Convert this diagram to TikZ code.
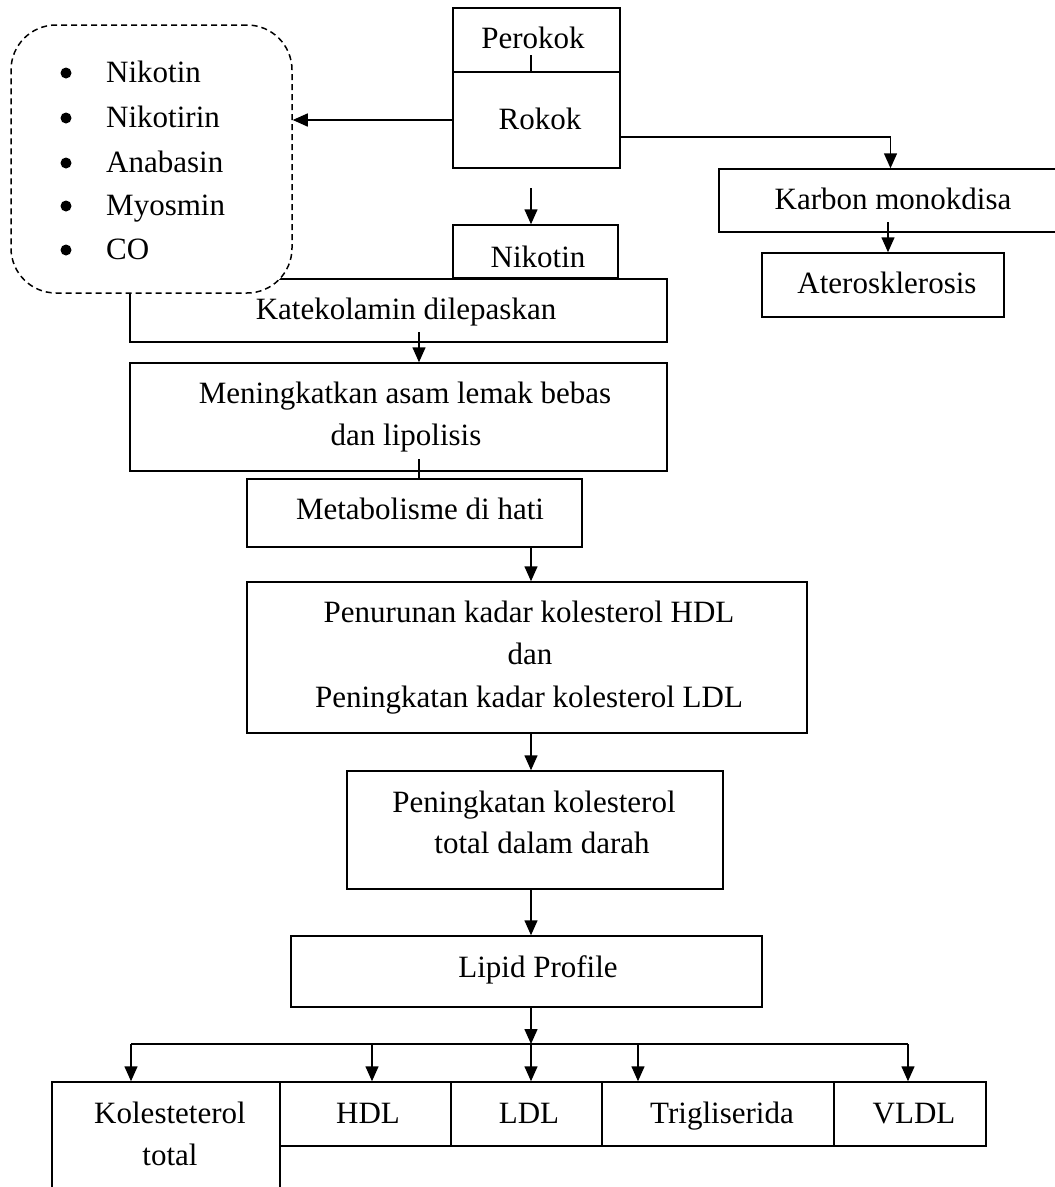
\documentclass[tikz,border=0pt]{standalone}
\usepackage{fontspec}
\setmainfont{Liberation Serif}
\usetikzlibrary{arrows.meta}
\tikzset{
  box/.style={draw, line width=1.5pt, fill=white, inner sep=0pt},
  lbl/.style={anchor=base, inner sep=0pt, font=\fontsize{31}{38}\selectfont},
  lbll/.style={anchor=base west, inner sep=0pt, font=\fontsize{31}{38}\selectfont},
  conn/.style={line width=1.5pt},
  arr/.style={line width=1.5pt, -{Triangle[length=15pt,width=13pt]}},
}
\begin{document}
\begin{tikzpicture}[x=1pt,y=-1pt]
\clip (0,0) rectangle (1055,1187);
\fill[white] (0,0) rectangle (1055,1187);
% boxes
\node[box, minimum width=167pt, minimum height=64pt] (perokok) at (536.5,40) {};
\node[box, minimum width=167pt, minimum height=96pt] (rokok) at (536.5,120) {};
\node[box, minimum width=343pt, minimum height=63pt] (karbon) at (890.5,200.5) {};
\node[box, minimum width=242pt, minimum height=64pt] (ater) at (883,285) {};
\node[box, minimum width=537pt, minimum height=63pt] (kat) at (398.5,310.5) {};
\node[box, minimum width=165pt, minimum height=53pt] (nik) at (535.5,251.5) {};
\node[box, minimum width=537pt, minimum height=108pt] (men) at (398.5,417) {};
\node[box, minimum width=335pt, minimum height=68pt] (met) at (414.5,513) {};
\node[box, minimum width=560pt, minimum height=151pt] (pen) at (527,657.5) {};
\node[box, minimum width=376pt, minimum height=118pt] (pkt) at (535,830) {};
\node[box, minimum width=471pt, minimum height=71pt] (lip) at (526.5,971.5) {};
\node[box, minimum width=228pt, minimum height=130pt] (kol) at (166,1147) {};
\node[box, minimum width=171pt, minimum height=64pt] (hdl) at (365.5,1114) {};
\node[box, minimum width=151pt, minimum height=64pt] (ldl) at (526.5,1114) {};
\node[box, minimum width=232pt, minimum height=64pt] (tri) at (718,1114) {};
\node[box, minimum width=152pt, minimum height=64pt] (vldl) at (910,1114) {};
% dashed list box (drawn over Katekolamin box)
\node[box, dash pattern=on 6pt off 4pt, rounded corners=45pt, minimum width=281pt, minimum height=268pt] (list) at (151.5,159) {};
% labels
\node[lbl] (tperokok) at (533,48) {Perokok};
\node[lbl] (trokok) at (540,129) {Rokok};
\node[lbl] (tkarbon) at (893,209) {Karbon monokdisa};
\node[lbl] (tater) at (887,293) {Aterosklerosis};
\node[lbl] (tnik) at (538,267) {Nikotin};
\node[lbl] (tkat) at (406,319) {Katekolamin dilepaskan};
\node[lbl] (tmen1) at (405,403) {Meningkatkan asam lemak bebas};
\node[lbl] (tmen2) at (406,445) {dan lipolisis};
\node[lbl] (tmet) at (420,519) {Metabolisme di hati};
\node[lbl] (tpen1) at (529,622) {Penurunan kadar kolesterol HDL};
\node[lbl] (tpen2) at (530,664) {dan};
\node[lbl] (tpen3) at (529,707) {Peningkatan kadar kolesterol LDL};
\node[lbl] (tpkt1) at (534,812) {Peningkatan kolesterol};
\node[lbl] (tpkt2) at (542,853) {total dalam darah};
\node[lbl] (tlip) at (538,977) {Lipid Profile};
\node[lbl] (tkol1) at (170,1123) {Kolesteterol};
\node[lbl] (tkol2) at (170,1165) {total};
\node[lbl] (thdl) at (368,1123) {HDL};
\node[lbl] (tldl) at (529,1123) {LDL};
\node[lbl] (ttri) at (722,1123) {Trigliserida};
\node[lbl] (tvldl) at (914,1123) {VLDL};
% list items
\foreach \yy/\tt [count=\i] in {82/Nikotin,127/Nikotirin,172/Anabasin,215/Myosmin,259/CO}{
  \fill (66,\yy-9) circle (5.5pt);
  \node[lbll] (li\i) at (106,\yy) {\tt};
}
% connectors
\coordinate (t1) at (531,55);
\draw[conn] (t1) -- (perokok.south -| t1);
\draw[arr] (rokok.west) -- (list.east |- rokok.west);
\draw[arr] ([yshift=-17pt]rokok.east) -| (karbon.north);
\coordinate (k1) at (888,222);
\draw[arr] (k1) -- (ater.north -| k1);
\coordinate (r3) at (531,188);
\draw[arr] (r3) -- (nik.north -| r3);
\coordinate (k2) at (419,332);
\draw[arr] (k2) -- (men.north -| k2);
\coordinate (m1) at (419,459);
\draw[conn] (m1) -- (met.north -| m1);
\coordinate (ax) at (531,0);
\draw[arr] (met.south -| ax) -- (pen.north -| ax);
\draw[arr] (pen.south -| ax) -- (pkt.north -| ax);
\draw[arr] (pkt.south -| ax) -- (lip.north -| ax);
\coordinate (b1) at (131,1044);
\coordinate (b2) at (372,1044);
\coordinate (b3) at (531,1044);
\coordinate (b4) at (638,1044);
\coordinate (b5) at (908,1044);
\draw[arr] (lip.south -| ax) -- (b3);
\draw[conn] (b1) -- (b5);
\draw[arr] (b1) -- (kol.north -| b1);
\draw[arr] (b2) -- (hdl.north -| b2);
\draw[arr] (b3) -- (ldl.north -| b3);
\draw[arr] (b4) -- (tri.north -| b4);
\draw[arr] (b5) -- (vldl.north -| b5);
\end{tikzpicture}
\end{document}
